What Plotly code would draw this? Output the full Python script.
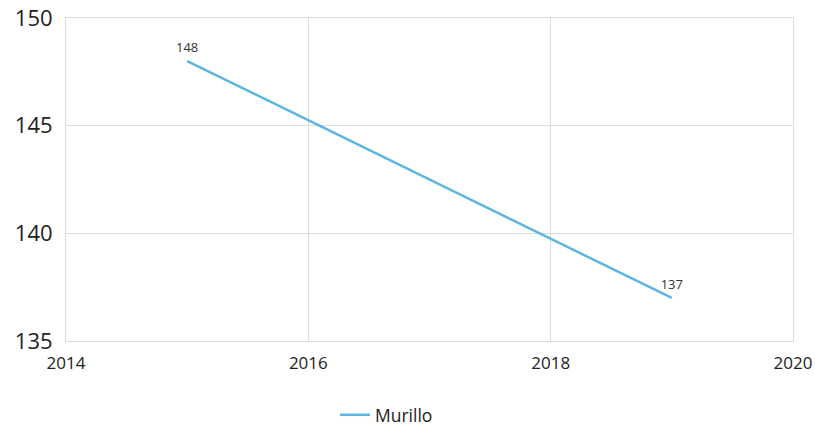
import plotly.graph_objects as go

years = [2015, 2019]
values = [148, 137]
series_name = "Murillo"
x_ticks = [2014, 2016, 2018, 2020]
y_ticks = [135, 140, 145, 150]

fig = go.Figure()
fig.add_trace(go.Scatter(
    x=years, y=values, name=series_name,
    mode="lines+markers+text",
    text=[str(v) for v in values],
    textposition="top center",
    textfont=dict(size=13, color="#333333"),
    marker=dict(size=8, color="rgba(0,0,0,0)"),
    line=dict(color="#5BB7DF", width=2.5),
    cliponaxis=False,
))

fig.update_layout(
    width=815, height=426,
    margin=dict(l=66, r=22, t=18, b=85),
    paper_bgcolor="white", plot_bgcolor="white",
    font=dict(family="Open Sans", color="#222222"),
    showlegend=True,
    legend=dict(orientation="h", x=0.37, xanchor="left",
                yref="container", y=0.026, yanchor="middle",
                font=dict(size=17.5, color="#222222")),
    xaxis=dict(range=[2014, 2020], tickvals=x_ticks, ticktext=[str(t) for t in x_ticks],
               showgrid=True, gridcolor="#dcdcdc", gridwidth=1,
               showline=True, linecolor="#dcdcdc", linewidth=1, mirror=True,
               zeroline=False, tickfont=dict(size=17, color="#222222"),
               ticklabelstandoff=7, automargin=False, ticklabeloverflow="allow"),
    yaxis=dict(range=[135, 150], tickvals=y_ticks, ticktext=[str(t) for t in y_ticks],
               showgrid=True, gridcolor="#dcdcdc", gridwidth=1,
               showline=True, linecolor="#dcdcdc", linewidth=1, mirror=True,
               zeroline=False, tickfont=dict(size=22, color="#222222"),
               ticklabelstandoff=8, automargin=False, ticklabeloverflow="allow"),
)

fig.write_html("out.html", config={"displayModeBar": False},
               post_script="document.body.style.margin='0';document.body.style.overflow='hidden';")
